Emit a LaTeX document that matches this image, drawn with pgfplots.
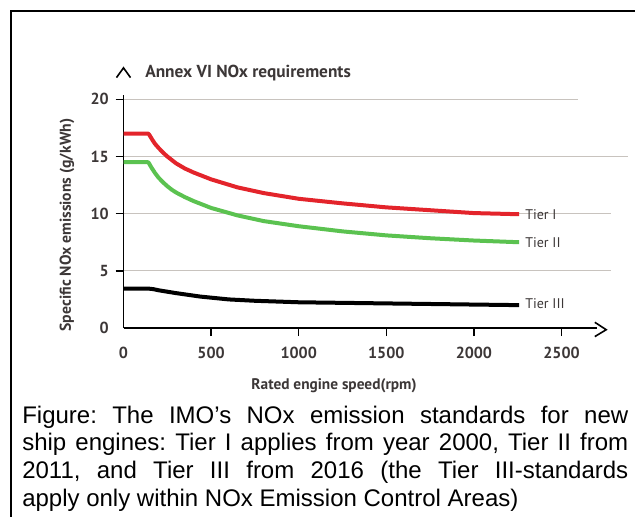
\documentclass[border=0pt]{standalone}
\usepackage{fontspec}
\setmainfont{Liberation Sans}
\newfontfamily\myriad{PT Sans}
\usepackage{pgfplots}
\pgfplotsset{compat=1.18}
\definecolor{tierone}{RGB}{227,36,43}
\definecolor{tiertwo}{RGB}{91,194,80}
\definecolor{gridgray}{RGB}{200,195,190}
\definecolor{labelgray}{RGB}{60,55,55}

\begin{document}
\begin{tikzpicture}
  \begin{axis}[
      set layers,
      at={(92.625pt,-246pt)}, anchor=origin,
      scale only axis, width=354.8pt, height=174.95pt,
      xmin=0, xmax=2700, ymin=0, ymax=20.4,
      axis lines=left,
      axis line style={-, line width=1.2pt},
      clip=false,
      xtick={500,1000,...,2500}, ytick={5,10,15,20},
      extra x ticks={0}, extra y ticks={0},
      extra tick style={tick style={draw=none}},
      tick align=outside, major tick length=6pt,
      tick style={black, line width=1.1pt},
      tick label style={font=\myriad\bfseries\fontsize{12}{14}\selectfont, text=labelgray},
      /pgf/number format/assume math mode=true,
      /pgf/number format/1000 sep={},
      xticklabel style={yshift=-5pt},
      yticklabel style={xshift=-1.5pt},
    ]
    % grid lines of unequal length, as in the original
    \begin{pgfonlayer}{axis grid}
      \draw[gridgray, line width=0.8pt] (axis cs:0,20) -- (axis cs:2594,20);
      \draw[gridgray, line width=0.8pt] (axis cs:0,15) -- (axis cs:2880,15);
      \draw[gridgray, line width=0.8pt] (axis cs:0,10) -- (axis cs:2783,10);
      \draw[gridgray, line width=0.8pt] (axis cs:0,5) -- (axis cs:2783,5);
    \end{pgfonlayer}

    % Tier I
    \addplot[tierone, line width=3pt, line join=round] coordinates {
      (0,17) (140,17) (145,16.95) (155,16.7) (165,16.45) (180,16.1)
      (200,15.75) (225,15.35) (250,15.0) (275,14.7) (300,14.4) (350,13.95)
      (400,13.6) (450,13.3) (500,13.0) (650,12.3) (800,11.8)
      (1000,11.3) (1250,10.9) (1500,10.55) (1750,10.3) (2000,10.05) (2258,9.95)
    };
    % Tier II
    \addplot[tiertwo, line width=3pt, line join=round] coordinates {
      (0,14.5) (140,14.5) (145,14.42) (155,14.15) (165,13.9) (180,13.55)
      (200,13.15) (225,12.75) (250,12.4) (275,12.1) (300,11.85) (350,11.45)
      (400,11.1) (450,10.8) (500,10.5) (650,9.85) (800,9.35)
      (1000,8.9) (1250,8.45) (1500,8.1) (1750,7.85) (2000,7.65) (2258,7.5)
    };
    % Tier III
    \addplot[black, line width=3pt, line join=round] coordinates {
      (0,3.45) (140,3.45) (170,3.4) (200,3.3) (300,3.05) (437,2.75) (600,2.5)
      (750,2.38) (1000,2.25) (1500,2.15) (2000,2.05) (2258,2.0)
    };

    \node[anchor=west, inner sep=0, font=\myriad\fontsize{10.5}{12}\selectfont, text=labelgray]
      at (axis cs:2292,9.9) {Tier I};
    \node[anchor=west, inner sep=0, font=\myriad\fontsize{10.5}{12}\selectfont, text=labelgray]
      at (axis cs:2292,7.45) {Tier II};
    \node[anchor=west, inner sep=0, font=\myriad\fontsize{10.5}{12}\selectfont, text=labelgray]
      at (axis cs:2292,2.1) {Tier III};

    % arrow heads of the axes
    \draw[line width=1.2pt] (axis cs:-40,21.9) -- (axis cs:0,22.75) -- (axis cs:40,21.9);
    \draw[line width=1.2pt] (axis cs:2690,0.5) -- (axis cs:2755,-0.15) -- (axis cs:2690,-0.75);
  \end{axis}

  \begin{scope}[x=0.75pt, y=-0.75pt]
    \node[anchor=west, inner sep=0, font=\myriad\bfseries\fontsize{13}{15}\selectfont, text=labelgray]
      at (145,73) {Annex VI NOx requirements};
    \node[rotate=90, inner sep=0, font=\myriad\bfseries\fontsize{11.8}{13}\selectfont, text=labelgray]
      at (67,225) {Specific NOx emissions (g/kWh)};
    \node[inner sep=0, font=\myriad\bfseries\fontsize{11.5}{13}\selectfont, text=labelgray]
      at (334,386) {Rated engine speed(rpm)};
    \node[anchor=base west, inner sep=0] at (22,423) {\parbox[t]{454.5pt}{\fontsize{18}{20.8}\selectfont\tolerance=10000\frenchspacing
      Figure: The IMO’s NOx emission standards for new\linebreak
      ship engines: Tier I applies from year 2000, Tier II from\linebreak
      2011, and Tier III from 2016 (the Tier III-standards\linebreak
      apply only within NOx Emission Control Areas)}};
    \draw[line width=1.7pt] (11,525) -- (11,11) -- (645,11);
  \end{scope}

  \pgfresetboundingbox
  \path[use as bounding box] (0,0) rectangle (476.25pt,-387.75pt);
\end{tikzpicture}
\end{document}
